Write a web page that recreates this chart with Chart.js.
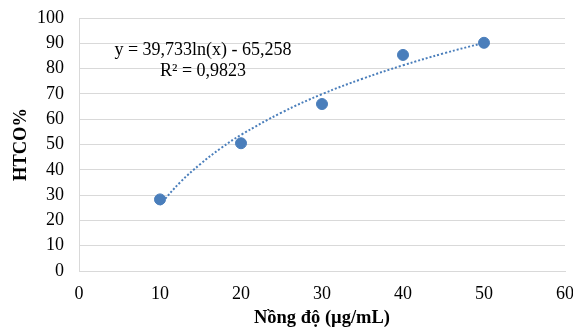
<!DOCTYPE html>
<html>
<head>
<meta charset="utf-8">
<script src="https://cdn.jsdelivr.net/npm/chart.js@4"></script>
<style>
  html, body { margin: 0; padding: 0; background: #fff; }
  #wrap { width: 573px; height: 329px; }
</style>
</head>
<body>
<div id="wrap"><canvas id="grafica" width="573" height="329"></canvas></div>
<script>
// Datos
const nongDo = [10, 20, 30, 40, 50];
const htco = [28.3, 50.5, 66.0, 85.4, 90.2];
// Linea de tendencia logaritmica
const tendX = [10, 12.5, 15, 17.5, 20, 25, 30, 35, 40, 45, 50];
const tendY = [26.2, 35.1, 42.3, 48.5, 53.8, 62.6, 69.9, 76.0, 81.3, 86.0, 90.2];
const ecuacion = "y = 39,733ln(x) - 65,258";
const r2 = "R² = 0,9823";

const fuente = "'Liberation Serif', 'Times New Roman', serif";

const textoEcuacion = {
    id: 'textoEcuacion',
    afterDraw(chart) {
        const c = chart.ctx;
        c.save();
        c.font = "18px " + fuente;
        c.fillStyle = "#000";
        c.textAlign = "center";
        c.textBaseline = "middle";
        c.fillText(ecuacion, 203, 50);
        c.fillText(r2, 203, 71);
        c.restore();
    }
};

const ctx = document.getElementById("grafica").getContext("2d");
new Chart(ctx, {
    type: 'scatter',
    data: {
        datasets: [{
            data: nongDo.map((x, i) => ({x: x, y: htco[i]})),
            backgroundColor: '#4a7ebb',
            borderColor: '#4a7ebb',
            pointRadius: 5.5,
            order: 1
        }, {
            type: 'line',
            data: tendX.map((x, i) => ({x: x, y: tendY[i]})),
            borderColor: '#4a7ebb',
            borderWidth: 2,
            borderDash: [2, 2],
            pointRadius: 0,
            fill: false,
            tension: 0.4,
            order: 2
        }]
    },
    options: {
        responsive: false,
        animation: false,
        layout: { padding: { top: 18, right: 8, left: 0, bottom: 0 } },
        plugins: {
            legend: { display: false },
            tooltip: { enabled: false }
        },
        scales: {
            x: {
                type: 'linear',
                min: 0, max: 60,
                afterFit: (s) => { s.height = 58; s.paddingLeft = 0; s.paddingRight = 0; },
                ticks: { stepSize: 10, color: '#000', font: { family: fuente, size: 18 }, padding: 12 },
                grid: { display: false, drawTicks: false },
                border: { color: '#d9d9d9', width: 1 },
                title: { display: true, text: 'Nồng độ (µg/mL)', color: '#000', font: { family: fuente, size: 18.5, weight: 'bold' }, padding: { top: 7, bottom: 0 } }
            },
            y: {
                min: 0, max: 100,
                afterFit: (s) => { s.width = 79; s.paddingTop = 0; s.paddingBottom = 0; },
                ticks: { stepSize: 10, color: '#000', font: { family: fuente, size: 18 }, padding: 15 },
                grid: { color: '#d9d9d9', drawTicks: false },
                border: { color: '#d9d9d9', width: 1 },
                title: { display: true, text: 'HTCO%', color: '#000', font: { family: fuente, size: 18.5, weight: 'bold' }, padding: { top: 10, bottom: 0 } }
            }
        }
    },
    plugins: [textoEcuacion]
});
</script>
</body>
</html>
